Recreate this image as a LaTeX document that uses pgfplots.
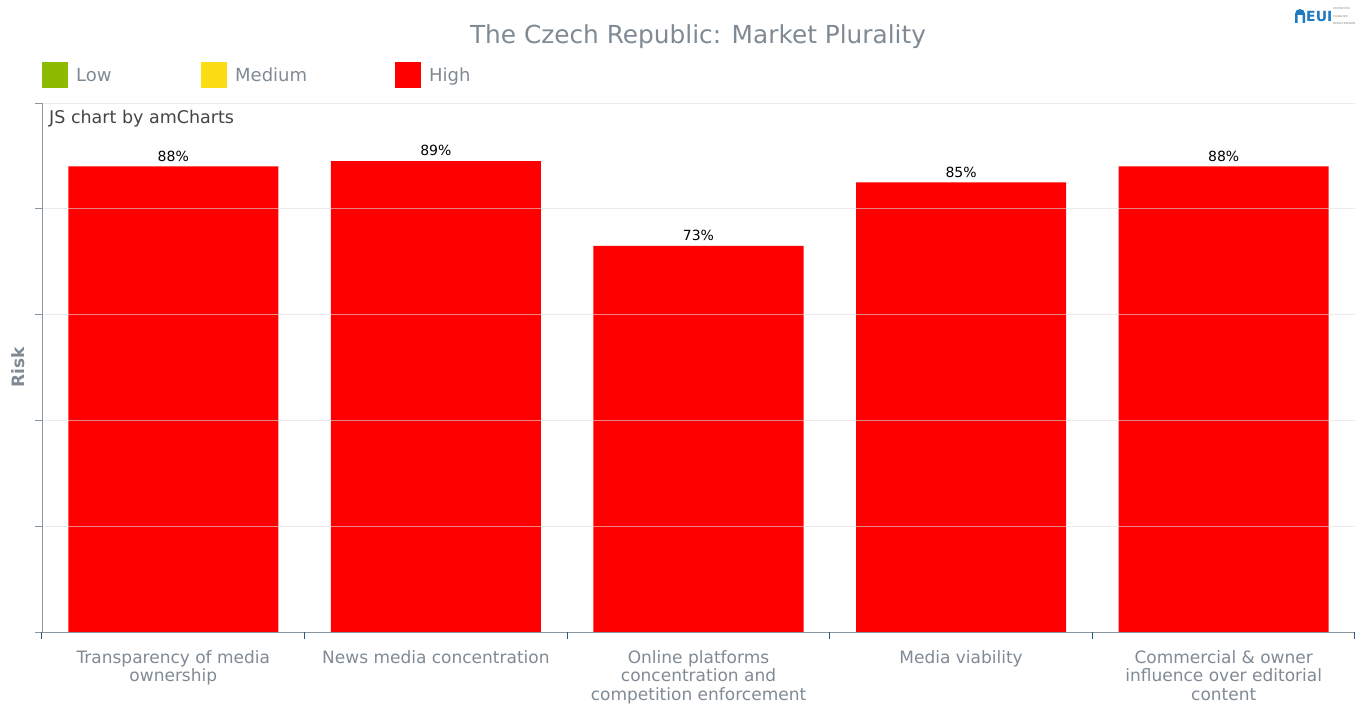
\documentclass[border=0pt]{standalone}
\usepackage{pgfplots}
\pgfplotsset{compat=1.18}
\usepackage{fontspec}
\setmainfont{DejaVu Sans}
\definecolor{txtgray}{HTML}{7F8A94}
\definecolor{darktxt}{HTML}{444444}
\definecolor{lowgreen}{HTML}{8DBB00}
\definecolor{medyellow}{HTML}{FCDC14}
\definecolor{highred}{HTML}{FF0000}
\definecolor{tickblue}{HTML}{2A5A80}
\definecolor{axgray}{HTML}{8A96A0}
\definecolor{logoblue}{HTML}{1F7BC1}
\begin{document}
\begin{tikzpicture}
\path[use as bounding box] (-42bp,-72bp) rectangle (1316bp,632bp);
\begin{axis}[
  scale only axis,
  width=1313bp, height=529bp,
  xmin=-0.5, xmax=4.5, ymin=0, ymax=100,
  axis lines*=left,
  axis on top,
  /pgf/number format/assume math mode=true,
  x axis line style={color=axgray, line width=0.8bp},
  y axis line style={color=axgray, line width=0.8bp},
  xtick={0,1,2,3,4},
  xticklabels={{Transparency of media\\ownership},{News media concentration},{Online platforms\\concentration and\\competition enforcement},{Media viability},{Commercial \& owner\\influence over editorial\\content}},
  xticklabel style={align=center, font=\fontsize{17bp}{18.5bp}\selectfont, text=txtgray, yshift=-8bp},
  xtick style={draw=none},
  extra x ticks={-0.5,0.5,1.5,2.5,3.5,4.5},
  extra x tick labels={},
  extra x tick style={grid=none, xtick style={draw=tickblue, line width=1bp}},
  ytick={0,20,40,60,80,100},
  yticklabels={},
  ytick style={draw=axgray, line width=0.8bp},
  tick align=outside,
  major tick length=7bp,
  ymajorgrids,
  major grid style={draw=black!13, opacity=0.6, line width=0.8bp},
  ylabel={\textbf{Risk}},
  ylabel style={font=\fontsize{17bp}{20bp}\selectfont, text=txtgray, at={(ticklabel cs:0.5)}, anchor=south, xshift=0bp},
  ybar, bar width=0.8,
  nodes near coords={\pgfmathprintnumber{\pgfplotspointmeta}\%},
  nodes near coords style={font=\fontsize{14bp}{16bp}\selectfont, text=black, anchor=south, yshift=1.5bp},
]
\addplot[fill=highred, draw=none] coordinates {(0,88) (1,89) (2,73) (3,85) (4,88)};
\end{axis}
% title
\node[font=\fontsize{24.8bp}{28bp}\selectfont, text=txtgray] at (656bp,595bp) {The Czech Republic: Market Plurality};
% legend
\fill[lowgreen] (0bp,544bp) rectangle (26bp,570bp);
\node[anchor=base west, font=\fontsize{18bp}{20bp}\selectfont, text=txtgray, inner sep=0pt] at (34bp,550.5bp) {Low};
\fill[medyellow] (159bp,544bp) rectangle (185bp,570bp);
\node[anchor=base west, font=\fontsize{18bp}{20bp}\selectfont, text=txtgray, inner sep=0pt] at (193bp,550.5bp) {Medium};
\fill[highred] (353bp,544bp) rectangle (379bp,570bp);
\node[anchor=base west, font=\fontsize{18bp}{20bp}\selectfont, text=txtgray, inner sep=0pt] at (387bp,550.5bp) {High};
% credit
\node[anchor=west, font=\fontsize{17.5bp}{19bp}\selectfont, text=darktxt, inner sep=0pt] at (7bp,513bp) {JS chart by amCharts};
% logo
\fill[logoblue] (1253bp,609bp) -- (1253bp,618bp) arc (180:0:5bp) -- (1263bp,609bp) -- (1260.5bp,609bp) -- (1260.5bp,617bp) -- (1255.5bp,617bp) -- (1255.5bp,609bp) -- cycle;
\node[anchor=west, font=\bfseries\fontsize{14bp}{15bp}\selectfont, text=logoblue, inner sep=0pt] at (1264bp,615bp) {EUI};
\node[anchor=base west, font=\fontsize{2.6bp}{3bp}\selectfont, text=gray, inner sep=0pt] at (1291bp,622bp) {CENTRE FOR};
\node[anchor=base west, font=\fontsize{2.6bp}{3bp}\selectfont, text=gray, inner sep=0pt] at (1291bp,614.5bp) {PLURALISM};
\node[anchor=base west, font=\fontsize{2.6bp}{3bp}\selectfont, text=gray, inner sep=0pt] at (1291bp,607bp) {MEDIA FREEDOM};
\end{tikzpicture}
\end{document}
